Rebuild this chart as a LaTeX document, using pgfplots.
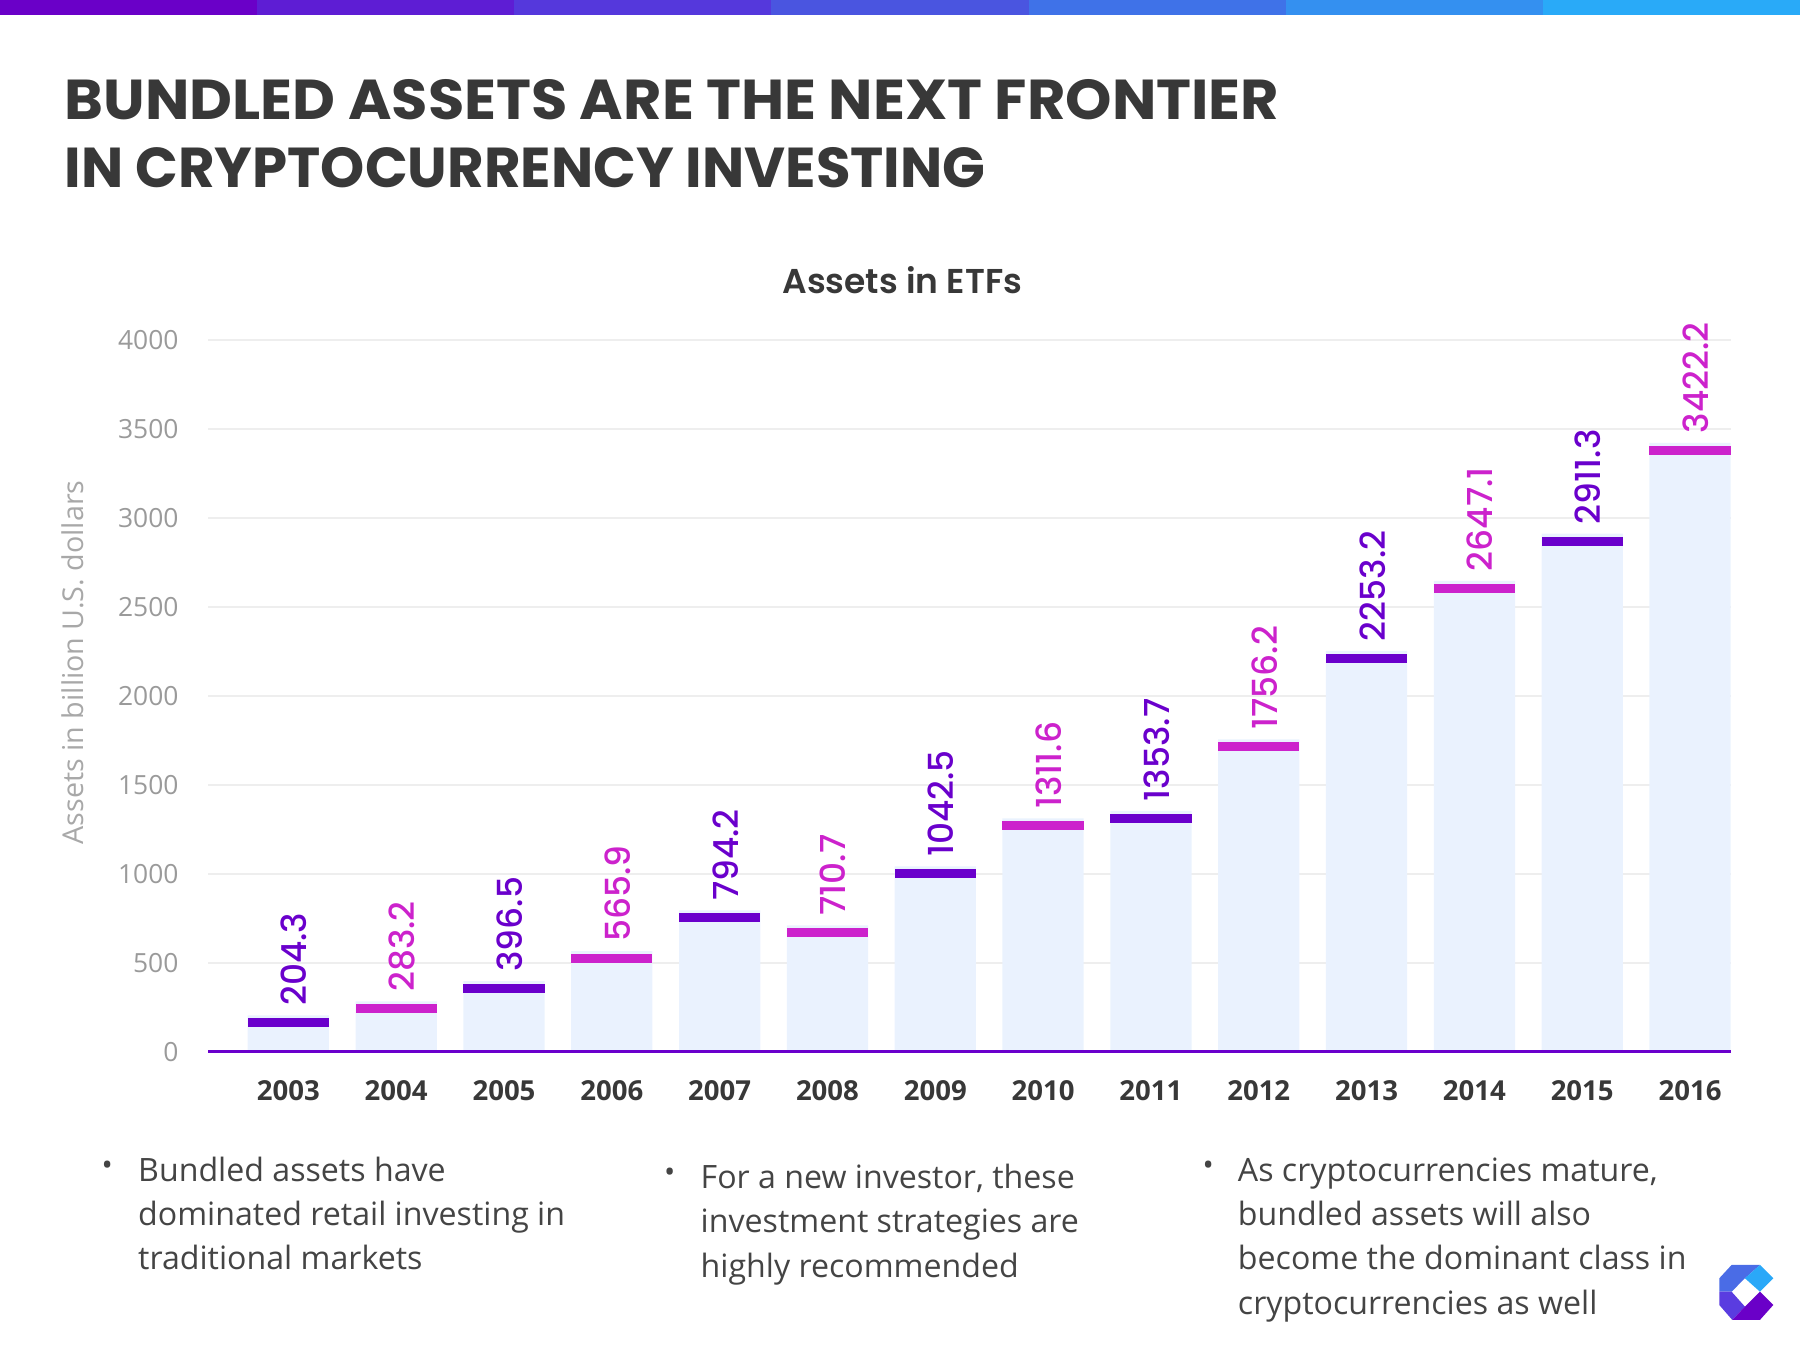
\documentclass[border=0pt]{standalone}
\usepackage{pgfplots}
\pgfplotsset{compat=1.18}
\usepackage{pgfplotstable}
\usepackage{graphicx}
\usepackage{fontspec}
\setmainfont{Open Sans}
\newfontfamily\popbold{Poppins Bold}
\newfontfamily\popsemi{Poppins SemiBold}
\newfontfamily\popmed{Poppins Medium}
\definecolor{cpurple}{HTML}{6A00CC}
\definecolor{cmag}{HTML}{CC22CC}
\definecolor{cbar}{HTML}{EAF2FE}
\definecolor{cgrid}{HTML}{EEEEEE}
\definecolor{ctitle}{HTML}{383838}
\definecolor{ctick}{HTML}{9A9A9A}
\definecolor{clab}{HTML}{A8A8A8}
\definecolor{ctext}{HTML}{444444}
\definecolor{g1}{HTML}{6A00C8}
\definecolor{g2}{HTML}{5E1DD4}
\definecolor{g3}{HTML}{5538DC}
\definecolor{g4}{HTML}{4A55E0}
\definecolor{g5}{HTML}{3F72E8}
\definecolor{g6}{HTML}{3490F0}
\definecolor{g7}{HTML}{29AAF8}
\definecolor{l1}{HTML}{4A6CE6}
\definecolor{l2}{HTML}{2AA8F8}
\definecolor{l3}{HTML}{5A3CE0}
\definecolor{l4}{HTML}{6A00C8}

\pgfdeclareplotmark{cap}{\pgfpathrectangle{\pgfpoint{-17.7pt}{-5.2pt}}{\pgfpoint{35.4pt}{3.9pt}}\pgfusepathqfill}

\pgfplotstableread{
x y
0 204.3
2 396.5
4 794.2
6 1042.5
8 1353.7
10 2253.2
12 2911.3
}\purpledata
\pgfplotstableread{
x y
1 283.2
3 565.9
5 710.7
7 1311.6
9 1756.2
11 2647.1
13 3422.2
}\magdata

\begin{document}
\begin{tikzpicture}
\begin{scope}[x=0.5pt,y=-0.5pt]
\path[use as bounding box] (0,0) rectangle (1568,1176);
% top gradient strip
\fill[g1] (0,0) rectangle (224,13);
\fill[g2] (224,0) rectangle (448,13);
\fill[g3] (448,0) rectangle (672,13);
\fill[g4] (672,0) rectangle (896,13);
\fill[g5] (896,0) rectangle (1120,13);
\fill[g6] (1120,0) rectangle (1344,13);
\fill[g7] (1344,0) rectangle (1568,13);
% title
\node[anchor=base west, inner sep=0, text=ctitle, font=\popbold\fontsize{24.5}{24.5}\selectfont] at (56,104.5) {\resizebox{529pt}{\height}{BUNDLED ASSETS ARE THE NEXT FRONTIER}};
\node[anchor=base west, inner sep=0, text=ctitle, font=\popbold\fontsize{24.5}{24.5}\selectfont] at (56,163.2) {\resizebox{401pt}{\height}{IN CRYPTOCURRENCY INVESTING}};
\node[anchor=base, inner sep=0, text=ctitle, font=\popsemi\fontsize{15}{15}\selectfont] at (786,256) {Assets in ETFs};
% y label
\node[rotate=90, inner sep=0, text=clab, font=\fontsize{12.5}{12.5}\selectfont] at (63,577) {Assets in billion U.S. dollars};
\end{scope}

\begin{axis}[
  at={(90.75pt,-458.1pt)}, anchor=south west,
  scale only axis, width=663pt, height=310pt,
  xmin=-0.742, xmax=13.376, ymin=0, ymax=4000,
  clip=false,
  axis x line*=bottom, axis y line*=left,
  y axis line style={draw=none},
  x axis line style={draw=none},
  ymajorgrids, grid style={draw=cgrid, line width=1pt},
  major tick length=0pt,
  ytick={0,500,...,4000},
  xtick={0,...,13},
  xticklabels={2003,2004,2005,2006,2007,2008,2009,2010,2011,2012,2013,2014,2015,2016},
  /pgf/number format/1000 sep={},
  /pgf/number format/assume math mode=true,
  yticklabel style={font=\fontsize{11.5}{11.5}\selectfont, text=ctick, xshift=-9.5pt},
  xticklabel style={font=\bfseries\fontsize{12}{12}\selectfont, text=ctitle, yshift=-9pt},
]
\addplot[ybar, bar shift=0pt, bar width=35.4pt, fill=cbar, draw=none] table[x=x,y=y] {\purpledata};
\addplot[ybar, bar shift=0pt, bar width=35.4pt, fill=cbar, draw=none] table[x=x,y=y] {\magdata};
\addplot[only marks, mark=cap, cpurple, point meta=y,
  nodes near coords={\pgfmathprintnumber[fixed,fixed zerofill,precision=1]{\pgfplotspointmeta}},
  every node near coord/.append style={xshift=2.5pt, rotate=90, anchor=west, inner xsep=4pt, inner ysep=0pt, text=cpurple, font=\popmed\fontsize{15}{15}\selectfont}]
  table[x=x,y=y] {\purpledata};
\addplot[only marks, mark=cap, cmag, point meta=y,
  nodes near coords={\pgfmathprintnumber[fixed,fixed zerofill,precision=1]{\pgfplotspointmeta}},
  every node near coord/.append style={xshift=2.5pt, rotate=90, anchor=west, inner xsep=4pt, inner ysep=0pt, text=cmag, font=\popmed\fontsize{15}{15}\selectfont}]
  table[x=x,y=y] {\magdata};
\draw[cpurple, line width=1.25pt] (rel axis cs:0,0) -- (rel axis cs:1,0);
\end{axis}

\begin{scope}[x=0.5pt,y=-0.5pt]
% bullets
\begin{scope}[every node/.style={inner sep=0, text=ctext, font=\fontsize{14}{19.25}\selectfont}]
\node[anchor=center, font=\fontsize{13}{13}\selectfont] at (93.5,1018) {•};
\node[anchor=base west] at (120,1029.3) {Bundled assets have};
\node[anchor=base west] at (120,1067.8) {dominated retail investing in};
\node[anchor=base west] at (120,1106.3) {traditional markets};
\node[anchor=center, font=\fontsize{13}{13}\selectfont] at (583.5,1024) {•};
\node[anchor=base west] at (610,1035.5) {For a new investor, these};
\node[anchor=base west] at (610,1074) {investment strategies are};
\node[anchor=base west] at (610,1112.5) {highly recommended};
\node[anchor=center, font=\fontsize{13}{13}\selectfont] at (1052.5,1018) {•};
\node[anchor=base west] at (1078,1029.3) {As cryptocurrencies mature,};
\node[anchor=base west] at (1078,1067.8) {bundled assets will also};
\node[anchor=base west] at (1078,1106.3) {become the dominant class in};
\node[anchor=base west] at (1078,1144.8) {cryptocurrencies as well};
\end{scope}
% logo
\fill[l1] (1497.7,1113.5) -- (1508.4,1101.9) -- (1533.1,1101.9) -- (1520,1113.5) -- (1508.4,1125.2) -- (1497.7,1125.2) -- cycle;
\fill[l2] (1533.1,1101.9) -- (1544.7,1113.5) -- (1533.1,1125.2) -- (1520,1113.5) -- cycle;
\fill[l3] (1497.7,1125.2) -- (1508.4,1125.2) -- (1520,1138.2) -- (1509,1149.8) -- (1497.7,1136.8) -- cycle;
\fill[l4] (1520,1138.2) -- (1533.1,1125.2) -- (1544.7,1136.8) -- (1533.1,1149.8) -- (1509,1149.8) -- cycle;
\end{scope}
\end{tikzpicture}
\end{document}
